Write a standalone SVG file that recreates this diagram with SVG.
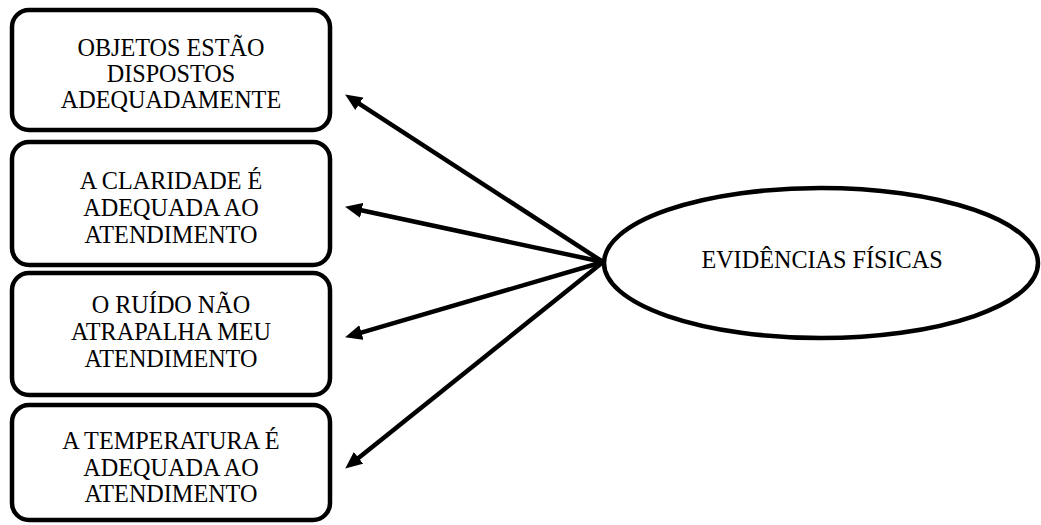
<svg xmlns="http://www.w3.org/2000/svg" width="1041" height="525" viewBox="0 0 1041 525">
<style>
.box{fill:#fff;stroke:#000;stroke-width:4.5}
.ell{fill:#fff;stroke:#000;stroke-width:4.5}
.t{font-family:'Liberation Serif','Times New Roman','DejaVu Serif',serif;font-size:24.2px;fill:#000;text-anchor:middle}
.c{stroke:#000;stroke-width:4.5;fill:none;marker-end:url(#ah)}
</style>
<defs>
<marker id="ah" markerUnits="userSpaceOnUse" markerWidth="18" markerHeight="16" refX="10" refY="7.5" orient="auto" viewBox="0 0 18 15">
<path d="M0,0 L17,7.5 L0,15 z" fill="#000"/>
</marker>
</defs>
<rect width="1041" height="525" fill="#fff"/>
<g id="n1">
<rect class="box" x="12" y="10" width="318" height="120" rx="17"/>
<text class="t" x="171" y="56">OBJETOS ESTÃO</text>
<text class="t" x="171" y="82">DISPOSTOS</text>
<text class="t" x="171" y="108">ADEQUADAMENTE</text>
</g>
<g id="n2">
<rect class="box" x="12" y="142" width="318" height="123" rx="17"/>
<text class="t" x="171" y="189">A CLARIDADE É</text>
<text class="t" x="171" y="216">ADEQUADA AO</text>
<text class="t" x="171" y="243">ATENDIMENTO</text>
</g>
<g id="n3">
<rect class="box" x="12" y="273" width="318" height="122" rx="17"/>
<text class="t" x="171" y="313">O RUÍDO NÃO</text>
<text class="t" x="171" y="340">ATRAPALHA MEU</text>
<text class="t" x="171" y="367">ATENDIMENTO</text>
</g>
<g id="n4">
<rect class="box" x="12" y="405" width="318" height="115" rx="17"/>
<text class="t" x="171" y="449">A TEMPERATURA É</text>
<text class="t" x="171" y="476">ADEQUADA AO</text>
<text class="t" x="171" y="502">ATENDIMENTO</text>
</g>
<g id="n5">
<ellipse class="ell" cx="821" cy="263" rx="217" ry="75"/>
<text class="t" x="822" y="268">EVIDÊNCIAS FÍSICAS</text>
</g>
<g id="connectors">
<line class="c" x1="603" y1="262" x2="351" y2="98.3"/>
<line class="c" x1="603" y1="262" x2="351.9" y2="208.3"/>
<line class="c" x1="603" y1="262" x2="351.8" y2="335.3"/>
<line class="c" x1="603" y1="262" x2="350.7" y2="464.2"/>
</g>
</svg>
